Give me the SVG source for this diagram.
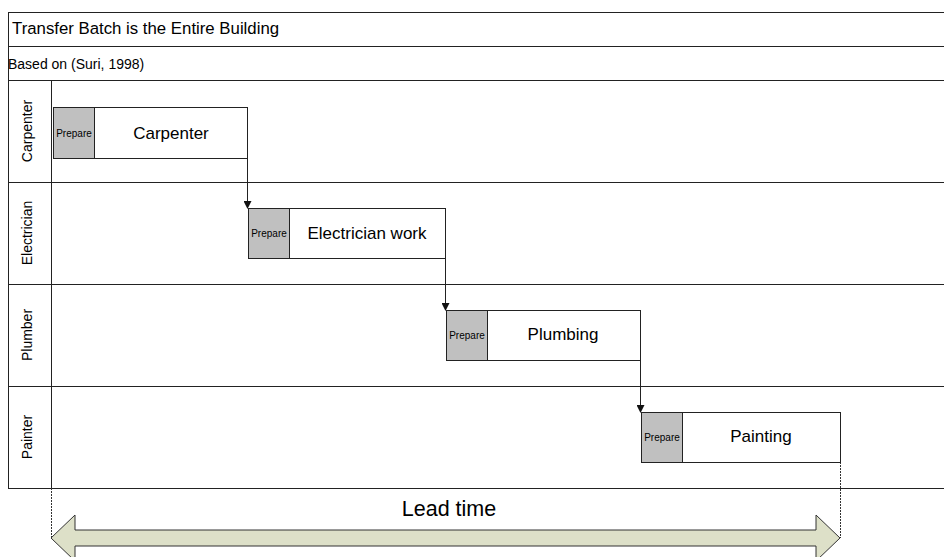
<svg xmlns="http://www.w3.org/2000/svg" width="944" height="557" viewBox="0 0 944 557">
  <style>
    .frame { fill: none; stroke: #222; stroke-width: 1; }
    .task { fill: #fff; stroke: #222; stroke-width: 1; }
    .prep { fill: #c0c0c0; stroke: #222; stroke-width: 1; }
    .t { font-family: "Liberation Sans", Arial, sans-serif; fill: #000; }
    .title { font-size: 16.8px; }
    .sub { font-size: 14px; }
    .lane { font-size: 14px; text-anchor: middle; }
    .name { font-size: 17px; text-anchor: middle; }
    .plabel { font-size: 10px; text-anchor: middle; }
    .conn { fill: none; stroke: #222; stroke-width: 1; }
    .dot { fill: none; stroke: #333; stroke-width: 1; stroke-dasharray: 2 1; }
  </style>
  <defs>
    <marker id="arrowhead" markerWidth="8" markerHeight="8" refX="7" refY="4" orient="auto" markerUnits="userSpaceOnUse">
      <path d="M0,0 L8,4 L0,8 Z" fill="#111"/>
    </marker>
  </defs>

  <rect width="944" height="557" fill="#fff"/>

  <!-- swimlane frame -->
  <g id="frame">
    <rect class="frame" x="8.5" y="12.5" width="940" height="476"/>
    <line class="frame" x1="8" y1="46.5" x2="944" y2="46.5"/>
    <line class="frame" x1="8" y1="80.5" x2="944" y2="80.5"/>
    <line class="frame" x1="51.5" y1="80" x2="51.5" y2="488"/>
    <line class="frame" x1="8" y1="182.5" x2="944" y2="182.5"/>
    <line class="frame" x1="8" y1="284.5" x2="944" y2="284.5"/>
    <line class="frame" x1="8" y1="386.5" x2="944" y2="386.5"/>
    <text class="t title" x="12" y="34">Transfer Batch is the Entire Building</text>
    <text class="t sub" x="8" y="69">Based on (Suri, 1998)</text>
    <text class="t lane" transform="translate(32,131) rotate(-90)">Carpenter</text>
    <text class="t lane" transform="translate(32,233) rotate(-90)">Electrician</text>
    <text class="t lane" transform="translate(32,335) rotate(-90)">Plumber</text>
    <text class="t lane" transform="translate(32,437) rotate(-90)">Painter</text>
  </g>

  <!-- connectors -->
  <g id="connectors">
    <line class="conn" x1="247.5" y1="158" x2="247.5" y2="208" marker-end="url(#arrowhead)"/>
    <line class="conn" x1="445.5" y1="258" x2="445.5" y2="310" marker-end="url(#arrowhead)"/>
    <line class="conn" x1="640.5" y1="360" x2="640.5" y2="412" marker-end="url(#arrowhead)"/>
    <line class="dot" x1="51.5" y1="488" x2="51.5" y2="538"/>
    <line class="dot" x1="840.5" y1="462" x2="840.5" y2="538"/>
  </g>

  <g id="carpenter">
    <rect class="task" x="53.5" y="107.5" width="194" height="51"/>
    <rect class="prep" x="53.5" y="107.5" width="41" height="51"/>
    <text class="t plabel" x="74" y="137">Prepare</text>
    <text class="t name" x="171" y="139">Carpenter</text>
  </g>

  <g id="electrician">
    <rect class="task" x="248.5" y="208.5" width="197" height="50"/>
    <rect class="prep" x="248.5" y="208.5" width="41" height="50"/>
    <text class="t plabel" x="269" y="237">Prepare</text>
    <text class="t name" x="367" y="239">Electrician work</text>
  </g>

  <g id="plumbing">
    <rect class="task" x="446.5" y="310.5" width="194" height="50"/>
    <rect class="prep" x="446.5" y="310.5" width="41" height="50"/>
    <text class="t plabel" x="467" y="339">Prepare</text>
    <text class="t name" x="563" y="340">Plumbing</text>
  </g>

  <g id="painting">
    <rect class="task" x="641.5" y="412.5" width="199" height="50"/>
    <rect class="prep" x="641.5" y="412.5" width="41" height="50"/>
    <text class="t plabel" x="662" y="441">Prepare</text>
    <text class="t name" x="761" y="442">Painting</text>
  </g>

  <!-- lead time span -->
  <g id="lead-time">
    <path d="M51,538 L75,515 L75,530 L816,530 L816,515 L840,538 L816,561 L816,546 L75,546 L75,561 Z" fill="#dde0c8" stroke="#333" stroke-width="1"/>
    <text class="t" x="449" y="516" font-size="21.5" text-anchor="middle">Lead time</text>
  </g>
</svg>
